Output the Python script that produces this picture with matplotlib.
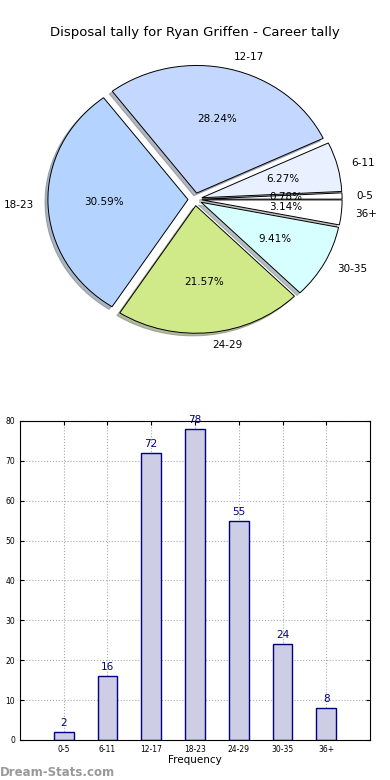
import matplotlib
matplotlib.use("Agg")
import matplotlib.pyplot as plt

# donnees
categories = ["0-5", "6-11", "12-17", "18-23", "24-29", "30-35", "36+"]
tally = [2, 16, 72, 78, 55, 24, 8]
couleurs = ["#ffffff", "#e9f0ff", "#c4d8ff", "#b4d4ff", "#d0ea8a", "#d8ffff", "#ffffff"]

fig = plt.figure(figsize=(3.9, 7.8), dpi=100)

# camembert (pas d'aspect egal, comme l'original)
ax1 = fig.add_axes([0.051, 0.540, 0.898, 0.409])
wedges, textes, autotextes = ax1.pie(
    tally, labels=categories, colors=couleurs, explode=[0.05] * len(tally),
    autopct="%.2f%%", startangle=0,
    shadow={"ox": -0.015, "oy": -0.015, "shade": 0.5},
    wedgeprops={"edgecolor": "black", "linewidth": 0.7},
    textprops={"fontsize": 7.5})
ax1.set_aspect("auto")
ax1.set_xlim(-1.25, 1.25)
ax1.set_ylim(-1.25, 1.25)
ax1.set_title("Disposal tally for Ryan Griffen - Career tally", fontsize=9.5, pad=3)

# histogramme des frequences
ax2 = fig.add_axes([0.051, 0.0513, 0.898, 0.409])
x = range(len(categories))
barres = ax2.bar(x, tally, width=0.45, color="#cdcde6", edgecolor="navy", linewidth=1)
for xi, v in zip(x, tally):
    ax2.text(xi, v + 1, str(v), ha="center", va="bottom", color="navy", fontsize=7.5)
ax2.set_xlim(-1, 7)
ax2.set_ylim(0, 80)
ax2.set_xticks(list(x))
ax2.set_xticklabels(categories)
ax2.tick_params(labelsize=5.5, length=3, direction="in", top=True, right=True)
ax2.grid(True, linestyle=":", color="#aaaaaa", linewidth=0.8)
ax2.set_axisbelow(True)
ax2.set_xlabel("Frequency", fontsize=7.5, labelpad=1)

fig.text(0.0, 0.005, "Dream-Stats.com", color="#999999", fontsize=8.5, fontweight="bold")

fig.savefig("out.png", dpi=100)
